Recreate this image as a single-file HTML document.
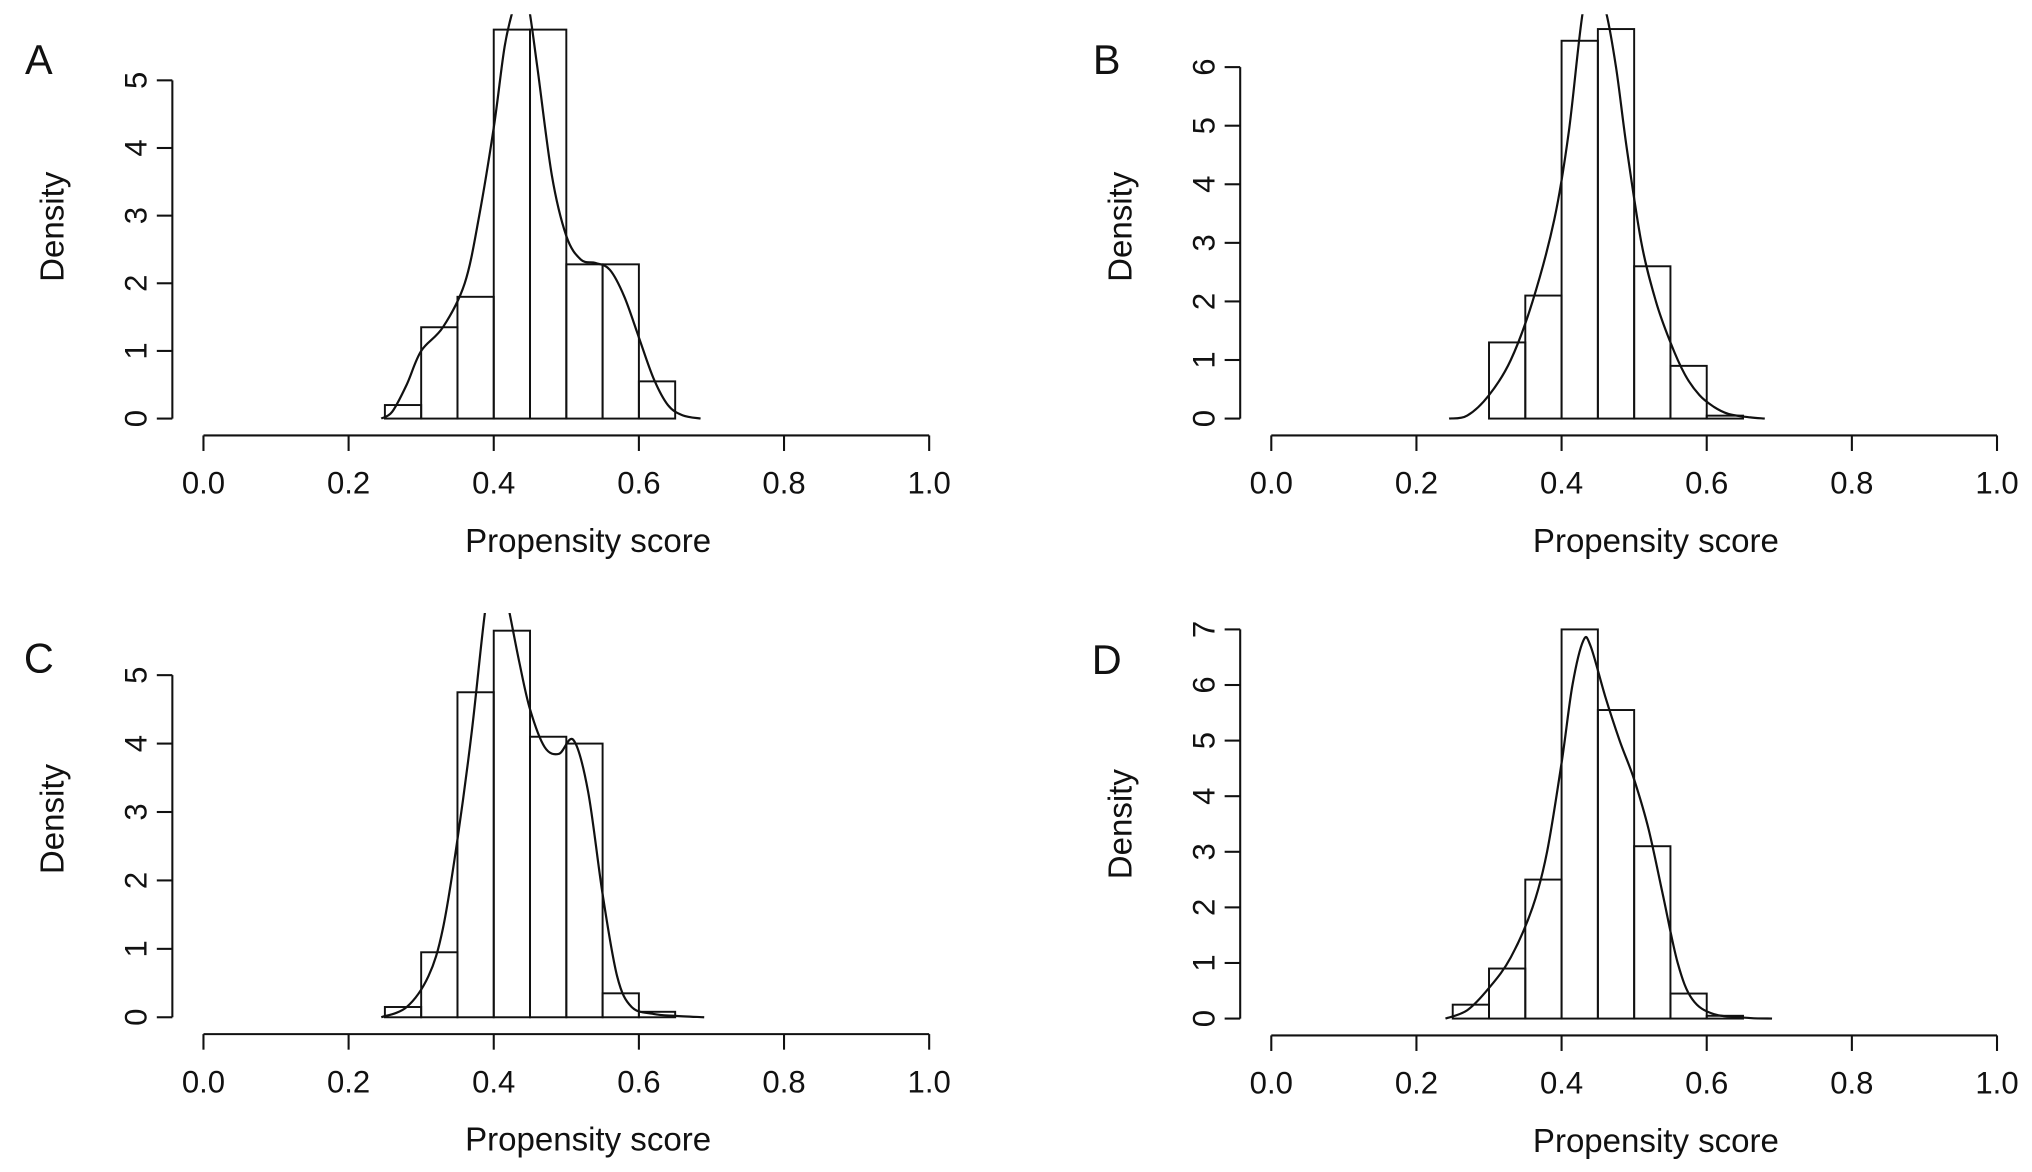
<!DOCTYPE html>
<html><head><meta charset="utf-8"><style>
html,body{margin:0;padding:0;background:#fff;}
svg{display:block;}
text{font-family:"Liberation Sans",sans-serif;fill:#111;}
</style></head><body>
<svg id="fig" width="2032" height="1172" viewBox="0 0 1568 904.4" preserveAspectRatio="none" xmlns="http://www.w3.org/2000/svg"></svg>
<script>
const binEdges = [0.25,0.30,0.35,0.40,0.45,0.50,0.55,0.60,0.65];
const histA = [0.2,1.35,1.8,5.75,5.75,2.28,2.28,0.55];
const histB = [0,1.3,2.1,6.45,6.65,2.6,0.9,0.05];
const histC = [0.15,0.95,4.75,5.65,4.1,4.0,0.35,0.08];
const histD = [0.25,0.9,2.5,7.0,5.55,3.1,0.45,0.05];
const densXA = [0.245,0.26,0.28,0.30,0.33,0.36,0.38,0.40,0.415,0.428,0.438,0.448,0.46,0.48,0.50,0.52,0.54,0.56,0.58,0.60,0.62,0.64,0.66,0.685];
const densYA = [0,0.1,0.5,1.0,1.35,2.0,3.0,4.3,5.5,6.1,6.4,6.1,5.2,3.6,2.7,2.35,2.3,2.2,1.8,1.2,0.6,0.2,0.05,0];
const densXB = [0.245,0.27,0.30,0.33,0.36,0.39,0.41,0.43,0.445,0.46,0.475,0.49,0.51,0.53,0.55,0.57,0.59,0.61,0.63,0.66,0.68];
const densYB = [0,0.05,0.4,1.0,2.0,3.4,4.9,7.0,7.3,7.0,6.0,4.6,3.0,2.0,1.3,0.75,0.4,0.2,0.08,0.02,0];
const densXC = [0.245,0.28,0.31,0.33,0.35,0.37,0.389,0.40,0.41,0.42,0.435,0.45,0.47,0.49,0.51,0.53,0.55,0.57,0.59,0.62,0.65,0.69];
const densYC = [0,0.15,0.6,1.3,2.6,4.2,6.0,6.4,6.4,6.0,5.2,4.5,3.95,3.85,4.05,3.3,1.8,0.6,0.15,0.05,0.02,0];
const densXD = [0.24,0.27,0.30,0.33,0.36,0.38,0.40,0.415,0.43,0.44,0.46,0.48,0.50,0.52,0.54,0.56,0.58,0.61,0.66,0.69];
const densYD = [0,0.15,0.55,1.1,2.0,3.0,4.6,6.0,6.8,6.7,5.8,5.0,4.3,3.4,2.2,1.0,0.35,0.08,0.01,0];
const xTicks = [0.0,0.2,0.4,0.6,0.8,1.0];
const xTickLabels = ["0.0","0.2","0.4","0.6","0.8","1.0"];
const yTicksA = [0,1,2,3,4,5];
const yTicksB = [0,1,2,3,4,5,6];
const yTicksC = [0,1,2,3,4,5];
const yTicksD = [0,1,2,3,4,5,6,7];

const NS="http://www.w3.org/2000/svg";
const svg=document.getElementById('fig');
function el(tag,attrs,parent){const e=document.createElementNS(NS,tag);for(const k in attrs)e.setAttribute(k,attrs[k]);(parent||svg).appendChild(e);return e;}
function smooth(pts){
 let d='M'+pts[0][0].toFixed(1)+','+pts[0][1].toFixed(1);
 for(let i=0;i<pts.length-1;i++){
  const p0=pts[Math.max(0,i-1)],p1=pts[i],p2=pts[i+1],p3=pts[Math.min(pts.length-1,i+2)];
  const c1=[p1[0]+(p2[0]-p0[0])/6,p1[1]+(p2[1]-p0[1])/6];
  const c2=[p2[0]-(p3[0]-p1[0])/6,p2[1]-(p3[1]-p1[1])/6];
  d+='C'+c1[0].toFixed(1)+','+c1[1].toFixed(1)+' '+c2[0].toFixed(1)+','+c2[1].toFixed(1)+' '+p2[0].toFixed(1)+','+p2[1].toFixed(1);
 }
 return d;
}

const panels=[
 {id:'a',letter:'A',ox:0,y0:323,unit:52.2,yt:yTicksA,h:histA,dx:densXA,dy:densYA,top:11,dyc:175},
 {id:'b',letter:'B',ox:824,y0:323,unit:45.2,yt:yTicksB,h:histB,dx:densXB,dy:densYB,top:11,dyc:175},
 {id:'c',letter:'C',ox:0,y0:785,unit:52.8,yt:yTicksC,h:histC,dx:densXC,dy:densYC,top:473,dyc:632},
 {id:'d',letter:'D',ox:824,y0:786,unit:42.9,yt:yTicksD,h:histD,dx:densXD,dy:densYD,top:473,dyc:636}
];
panels.forEach(p=>{
 const g=el('g',{});
 
 
 const X=v=>p.ox+157+v*560;
 const Y=v=>p.y0-v*p.unit;
 const axY=p.y0+13, axX=p.ox+133;
 const lt=el('text',{x:p.ox+30,y:p.y0-266,'font-size':32,'text-anchor':'middle'},g);lt.textContent=p.letter;
 
 const xa=el('g',{},g);
 el('line',{x1:X(0),x2:X(1),y1:axY,y2:axY,stroke:'#111','stroke-width':1.6},xa);
 xTicks.forEach((t,i)=>{
  el('line',{x1:X(t),x2:X(t),y1:axY,y2:axY+12,stroke:'#111','stroke-width':1.6},xa);
  const tx=el('text',{x:X(t),y:axY+45,'font-size':24,'text-anchor':'middle'},xa);tx.textContent=xTickLabels[i];
 });
 const xt=el('text',{x:X(0.53),y:axY+90,'font-size':25.5,'text-anchor':'middle'},g);xt.textContent='Propensity score';
 
 const ya=el('g',{},g);
 const yt=p.yt;
 el('line',{x1:axX,x2:axX,y1:Y(0),y2:Y(yt[yt.length-1]),stroke:'#111','stroke-width':1.6},ya);
 yt.forEach(t=>{
  el('line',{x1:axX-12,x2:axX,y1:Y(t),y2:Y(t),stroke:'#111','stroke-width':1.6},ya);
  const tx=el('text',{x:axX-20,y:Y(t),'font-size':24,'text-anchor':'middle',transform:`rotate(-90 ${axX-20} ${Y(t)})`},ya);
  tx.textContent=t;
 });
 const ytl=el('text',{x:p.ox+49,y:p.dyc,'font-size':25.5,'text-anchor':'middle',transform:`rotate(-90 ${p.ox+49} ${p.dyc})`},g);ytl.textContent='Density';
 
 const bars=el('g',{},g);
 p.h.forEach((v,i)=>{
  if(v<=0)return;
  const r=el('rect',{x:X(binEdges[i]),y:Y(v),width:X(binEdges[i+1])-X(binEdges[i]),height:Y(0)-Y(v),fill:'none',stroke:'#111','stroke-width':1.5},bars);
  
  
 });
 const cid='clip-'+p.id;
 const cp=el('clipPath',{id:cid},g);el('rect',{x:p.ox,y:p.top,width:780,height:400},cp);
 const pts=p.dx.map((x,i)=>[X(x),Y(p.dy[i])]);
 const c=el('path',{d:smooth(pts),fill:'none',stroke:'#111','stroke-width':1.7,'stroke-linejoin':'round','clip-path':`url(#${cid})`},g);
 
 
});
</script>
</body></html>
